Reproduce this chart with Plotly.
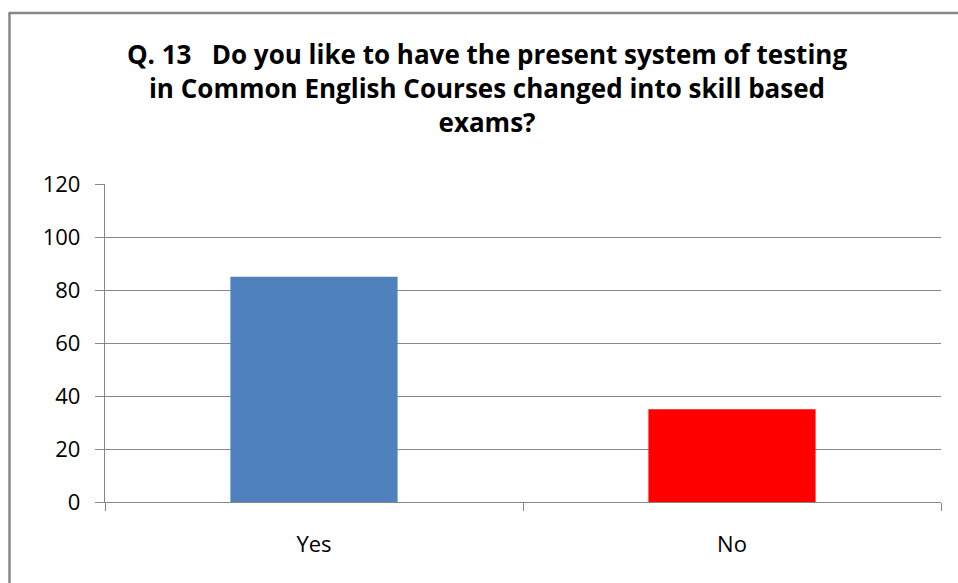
import plotly.graph_objects as go

categories = ["Yes", "No"]
responses = [85, 35]
bar_colors = ["#4F81BD", "#FF0000"]
y_ticks = [0, 20, 40, 60, 80, 100, 120]

title_text = ("Q. 13   Do you like to have the present system of testing<br>"
              "in Common English Courses changed into skill based<br>"
              "exams?")

W, H = 958, 583
L, R, T, B = 105, 17, 184, 81
pw, ph = W - L - R, H - T - B

def px_x(x):
    return (x - L) / pw

def px_y(y):
    return (H - B - y) / ph

grey = "#878787"
base_font = "Open Sans"

fig = go.Figure(
    go.Bar(
        x=categories,
        y=responses,
        marker=dict(color=bar_colors, line=dict(width=0)),
        width=0.4,
    )
)

fig.update_layout(
    width=W,
    height=H,
    margin=dict(l=L, r=R, t=T, b=B),
    paper_bgcolor="white",
    plot_bgcolor="white",
    showlegend=False,
    font=dict(family=base_font, color="#000000", size=22),
    title=dict(
        text=title_text,
        x=487 / W,
        xanchor="center",
        xref="container",
        y=1 - 64 / H,
        yref="container",
        yanchor="top",
        font=dict(family=base_font, size=26, color="#000000", weight="bold"),
    ),
    bargap=0.6,
    shapes=[
        # chart frame
        dict(type="line", xref="paper", yref="paper",
             x0=px_x(9.5), x1=px_x(9.5), y0=px_y(13), y1=px_y(600),
             line=dict(color=grey, width=2.5)),
        dict(type="line", xref="paper", yref="paper",
             x0=px_x(8.5), x1=px_x(970), y0=px_y(13), y1=px_y(13),
             line=dict(color=grey, width=2.5)),
    ],
)

fig.update_yaxes(
    range=[0, 120],
    tickvals=y_ticks,
    showgrid=True,
    gridcolor=grey,
    gridwidth=1.3,
    showline=True,
    linecolor=grey,
    linewidth=1.3,
    ticks="outside",
    ticklen=9,
    tickcolor=grey,
    tickwidth=1.3,
    ticklabelstandoff=10,
    tickfont=dict(size=22),
    zeroline=False,
)

fig.update_xaxes(
    type="category",
    showline=True,
    linecolor=grey,
    linewidth=1.3,
    ticks="outside",
    tickson="boundaries",
    ticklen=8,
    tickcolor=grey,
    tickwidth=1.3,
    ticklabelstandoff=22,
    tickfont=dict(size=22),
    showgrid=False,
)

fig.write_html("out.html")
